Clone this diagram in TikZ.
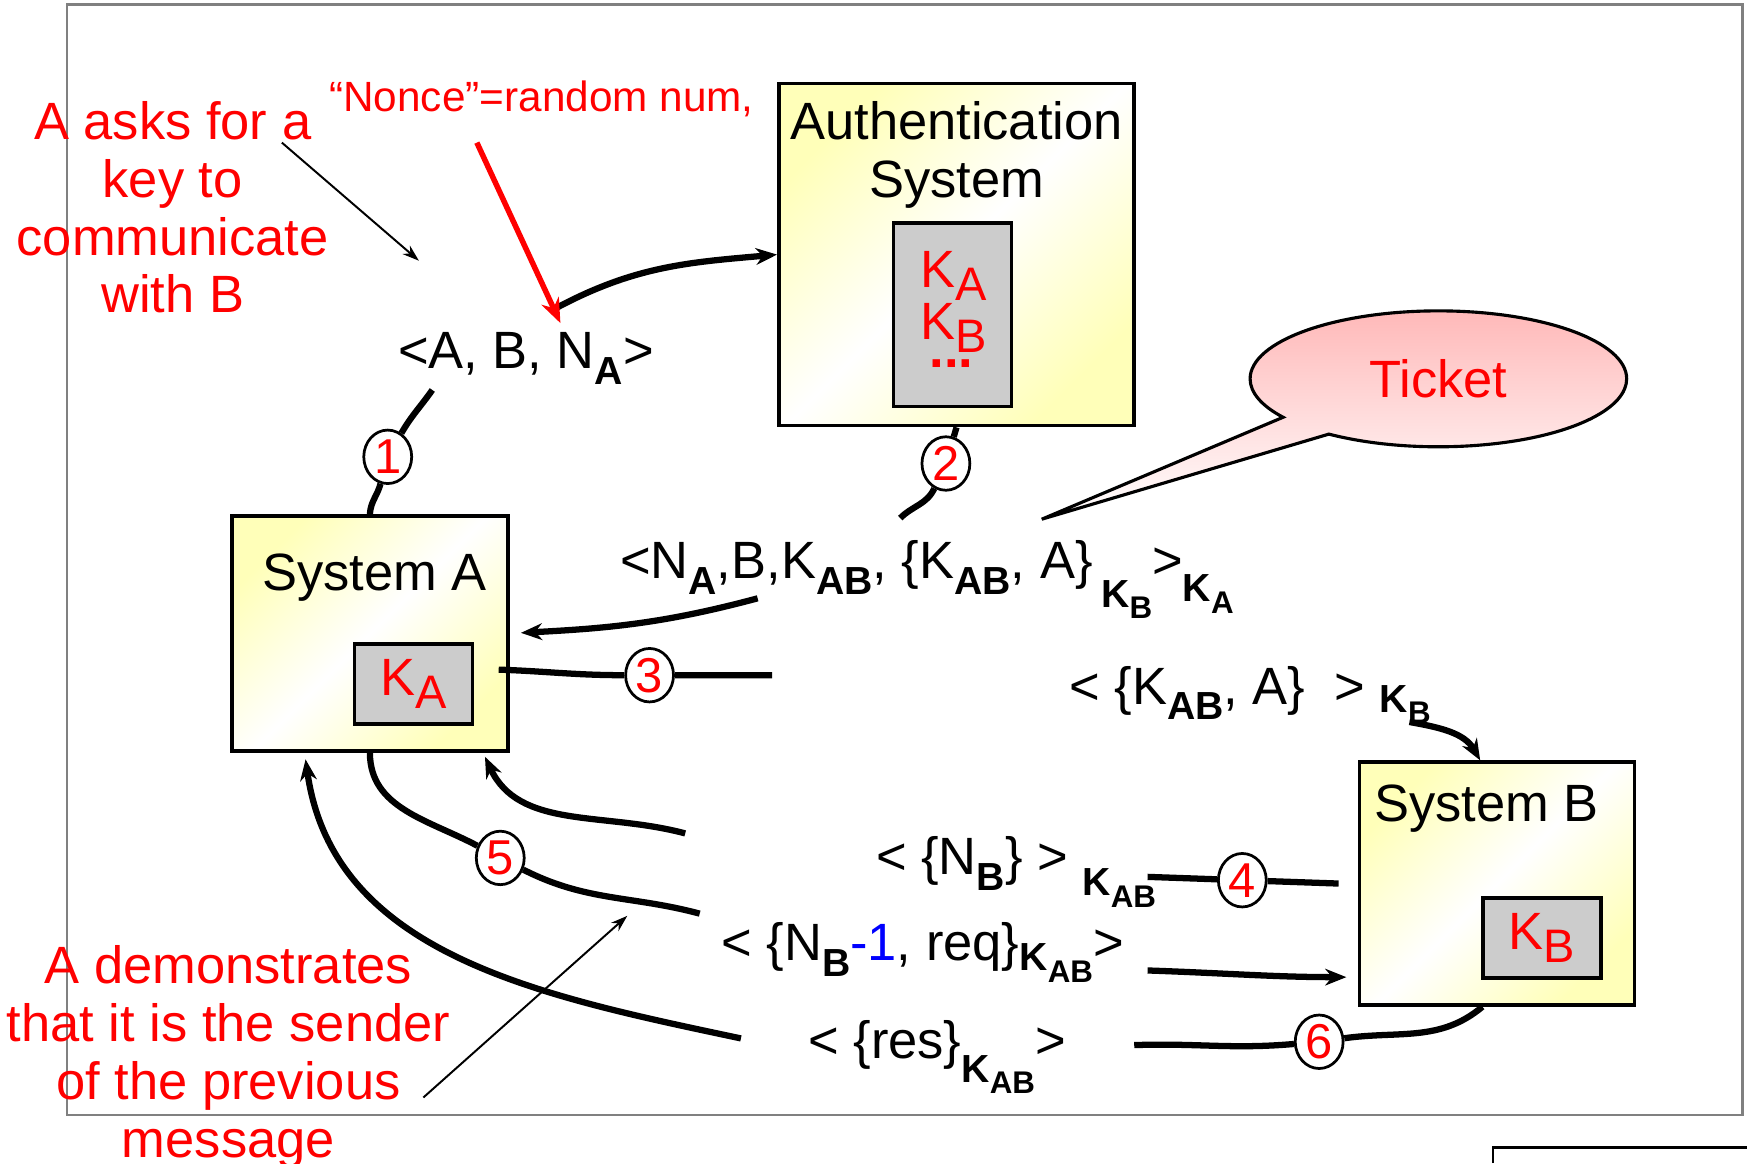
\documentclass[tikz,border=0pt]{standalone}
\usepackage{fontspec}
\setmainfont{Liberation Sans}
\usetikzlibrary{arrows.meta,shapes.geometric,shapes.callouts}
\definecolor{boxyellow}{RGB}{255,255,185}
\definecolor{keygray}{RGB}{204,204,204}
\definecolor{ticketpink}{RGB}{255,185,185}
\definecolor{framegray}{RGB}{128,128,128}
\newcommand{\bigtxt}{\fontsize{13.4}{14.8}\selectfont}
\newcommand{\smalltxt}{\fontsize{10.8}{12}\selectfont}
\newcommand{\ksub}[1]{\raisebox{-0.25em}{\fontsize{12}{12}\selectfont #1}}
\newcommand{\msub}[2][0.3em]{\raisebox{-#1}{\fontsize{10}{10}\selectfont\bfseries #2}}
\newcommand{\ssub}[1]{\raisebox{-0.3em}{\fontsize{8}{8}\selectfont\bfseries #1}}
\begin{document}
\begin{tikzpicture}[
  sysbox/.style={draw, line width=0.9pt, left color=boxyellow, right color=boxyellow, middle color=white, shading angle=45},
  keybox/.style={draw, line width=0.9pt, fill=keygray, text=red, font=\bigtxt, inner sep=0pt},
  numcirc/.style={ellipse, draw, fill=white, line width=0.7pt, inner sep=0pt, minimum width=0.43cm, minimum height=0.48cm, text=red, font=\fontsize{12.5}{12.5}\selectfont},
  msg/.style={inner sep=0pt, font=\bigtxt},
  note/.style={inner sep=0pt, text=red, align=center, font=\bigtxt},
  flow/.style={line width=1.6pt},
  headflow/.style={-{Stealth[length=0.19cm,width=0.15cm]}},
  thinarrow/.style={line width=0.5pt, -{Stealth[length=0.15cm,width=0.1cm]}}
]
\useasboundingbox (0,0) rectangle (15.68,-10.44);
\draw[framegray, line width=0.6pt] (0.60,-0.04) rectangle (15.64,-10.01);
\draw[line width=0.6pt] (13.40,-10.44) -- (13.40,-10.30) -- (15.68,-10.30);

\node[sysbox, minimum width=3.19cm, minimum height=3.07cm] (auth) at (8.585,-2.285) {};
\node[msg, align=center, anchor=north] (authtxt) at (8.585,-0.90) {Authentication\\System};
\node[keybox, minimum width=1.06cm, minimum height=1.65cm] (authkeys) at (8.55,-2.825) {};
\node[msg, text=red, anchor=base] (authka) at (8.56,-2.58) {K\ksub{A}};
\node[msg, text=red, anchor=base] (authkb) at (8.56,-3.05) {K\ksub{B}};
\node[msg, text=red, anchor=base] (authdots) at (8.54,-3.30) {\textbf{...}};

\node[sysbox, minimum width=2.48cm, minimum height=2.11cm] (sysA) at (3.32,-5.685) {};
\node[msg, anchor=base] (sysAtxt) at (3.36,-5.30) {System A};
\node[keybox, minimum width=1.06cm, minimum height=0.72cm] (keyA) at (3.71,-6.14) {K\ksub{A}};

\node[sysbox, minimum width=2.47cm, minimum height=2.18cm] (sysB) at (13.435,-7.93) {};
\node[msg, anchor=base] (sysBtxt) at (13.34,-7.37) {System B};
\node[keybox, minimum width=1.06cm, minimum height=0.72cm] (keyB) at (13.84,-8.42) {K\ksub{B}};

\node[ellipse callout, draw, line width=0.8pt, top color=ticketpink, bottom color=white,
  minimum width=3.38cm, minimum height=1.22cm, inner sep=0pt,
  callout absolute pointer={(9.35,-4.66)}, callout pointer arc=20,
  text=red, font=\bigtxt] (ticket) at (12.91,-3.40) {Ticket};

\node[note, anchor=north] (asknote) at (1.55,-0.90) {A asks for a\\key to\\communicate\\with B};
\node[note, font=\smalltxt, anchor=base] (nonce) at (4.86,-1.00) {``Nonce''=random num,};
\node[note, anchor=north] (demonote) at (2.05,-8.48) {A demonstrates\\that it is the sender\\of the previous\\message};

\node[msg, anchor=base] (m1) at (4.72,-3.31) {<A, B, N\msub{A}>};
\node[msg, anchor=base] (m2) at (8.32,-5.19) {<N\msub{A},B,K\msub{AB}, \{K\msub{AB}, A\}\,\msub[0.55em]{K\ssub{B}}>\msub[0.45em]{K\ssub{A}}};
\node[msg, anchor=base] (m3) at (11.22,-6.32) {< \{K\msub{AB}, A\}~~> \msub[0.15em]{K\ssub{B}}};
\node[msg, anchor=base] (m4) at (9.12,-7.85) {< \{N\msub{B}\} > \msub[0.4em]{K\ssub{AB}}};
\node[msg, anchor=base] (m5) at (8.28,-8.62) {< \{N\msub{B}\textcolor{blue}{-1}, req\}\msub[0.2em]{K\ssub{AB}}>};
\node[msg, anchor=base] (m6) at (8.41,-9.50) {< \{res\}\msub[0.45em]{K\ssub{AB}}>};

\node[numcirc] (n1) at (3.48,-4.10) {1};
\node[numcirc] (n2) at (8.49,-4.16) {2};
\node[numcirc] (n3) at (5.83,-6.06) {3};
\node[numcirc] (n4) at (11.15,-7.90) {4};
\node[numcirc] (n5) at (4.49,-7.70) {5};
\node[numcirc] (n6) at (11.84,-9.35) {6};

\coordinate (m1a) at (3.88,-3.50);
\coordinate (m1b) at (5.00,-2.76);
\draw[flow] (sysA.north) to[out=87,in=-105] (n1) to[out=60,in=-125] (m1a);
\draw[flow, headflow] (m1b) to[out=28,in=185] (auth.west);

\coordinate (m2a) at (8.08,-4.65);
\coordinate (m2b) at (6.80,-5.37);
\draw[flow] (auth.south) -- (n2) to[out=-115,in=45] (m2a);
\draw[flow, headflow, shorten >=0.1cm] (m2b) to[out=195,in=3] (sysA.east);

\coordinate (m3a) at (6.93,-6.06);
\coordinate (m3b) at (12.65,-6.48);
\draw[flow] ([xshift=0.22cm,yshift=0.13cm]keyA.east) to[out=-2,in=180] (n3) -- (m3a);
\draw[flow, headflow] (m3b) to[out=-10,in=120] ([xshift=-0.15cm]sysB.north);

\coordinate (m4a) at (10.30,-7.87);
\coordinate (m4b) at (6.15,-7.48);
\draw[flow] ([xshift=-0.17cm]sysB.west) -- (n4) -- (m4a);
\draw[flow, headflow, shorten >=0.04cm] (m4b) to[out=165,in=-65] ([xshift=-0.24cm]sysA.south east);

\coordinate (m5a) at (6.28,-8.20);
\coordinate (m5b) at (10.30,-8.71);
\draw[flow] (sysA.south) to[out=-90,in=152] (n5) to[out=-27,in=165] (m5a);
\draw[flow, headflow, shorten >=0.1cm] (m5b) to[out=-2,in=180] ([yshift=-0.84cm]sysB.west);

\coordinate (m6a) at (10.18,-9.38);
\coordinate (m6b) at (6.65,-9.32);
\draw[flow] ([xshift=-0.13cm]sysB.south) to[out=-140,in=8] (n6) to[out=185,in=2] (m6a);
\draw[flow, headflow, shorten >=0.06cm] (m6b) to[out=168,in=-82] ([xshift=0.67cm]sysA.south west);

\coordinate (askfrom) at (2.53,-1.28);
\coordinate (askto) at (3.76,-2.34);
\draw[thinarrow] (askfrom) -- (askto);
\coordinate (noncefrom) at (4.28,-1.28);
\coordinate (nonceto) at (5.03,-2.90);
\draw[red, line width=1.4pt, -{Stealth[length=0.22cm,width=0.17cm]}] (noncefrom) -- (nonceto);
\coordinate (demofrom) at (3.80,-9.85);
\coordinate (demoto) at (5.63,-8.22);
\draw[thinarrow] (demofrom) -- (demoto);
\end{tikzpicture}
\end{document}
